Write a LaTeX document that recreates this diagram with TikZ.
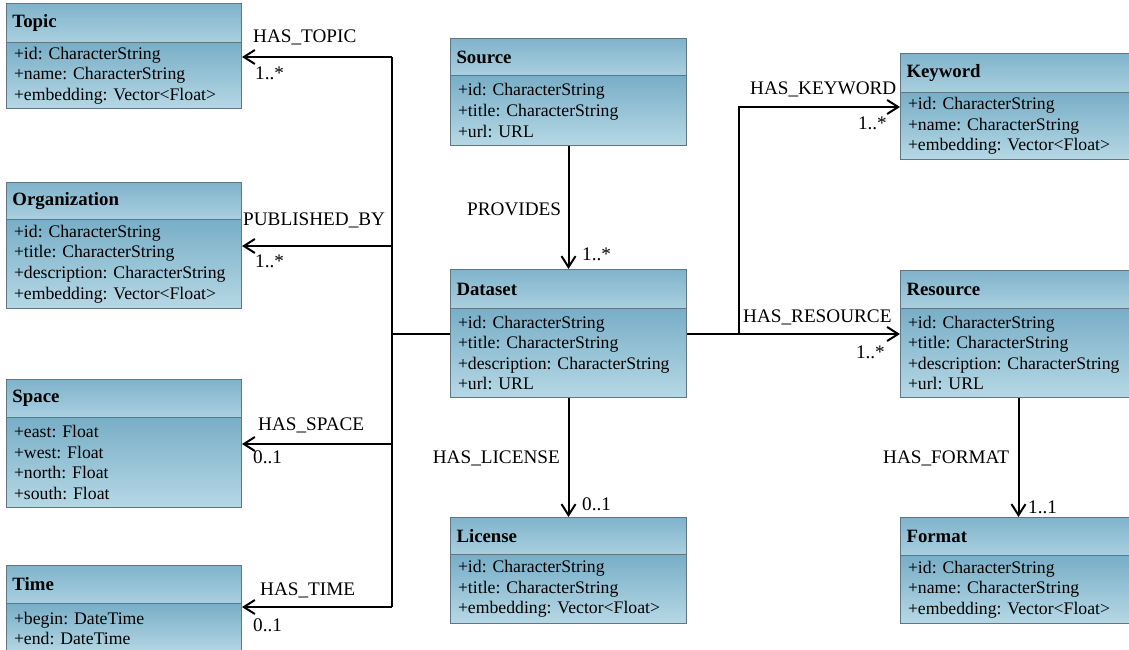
\documentclass[tikz,border=0pt]{standalone}
\usepackage{fontspec}
\setmainfont{Liberation Serif}
\usetikzlibrary{arrows.meta}
\frenchspacing

\definecolor{hdrtop}{HTML}{80B3CB}
\definecolor{hdrbot}{HTML}{AAD0E0}
\definecolor{bodytop}{HTML}{78AEC7}
\definecolor{bodybot}{HTML}{B6D8E5}
\definecolor{boxline}{HTML}{5F7684}

\newcommand\titlefont{\fontsize{18.8}{20}\selectfont\bfseries}
\newcommand\attrfont{\fontsize{17.7}{20.6}\selectfont}
\newcommand\relfont{\fontsize{19.2}{21}\selectfont}

\tikzset{
  classhdr/.style={draw=boxline, line width=1pt, top color=hdrtop, bottom color=hdrbot,
    anchor=north west, inner xsep=6pt, inner ysep=0pt, align=left, font=\titlefont},
  classbody/.style={draw=boxline, line width=1pt, top color=bodytop, bottom color=bodybot,
    anchor=north west, inner xsep=7.5pt, inner ysep=0pt, align=left, font=\attrfont},
  conn/.style={line width=2pt, black},
  assoc/.style={conn, -{Straight Barb[length=11pt, width=14pt]}},
  rel/.style={inner sep=0pt, font=\relfont},
}

% \umlclass{name}{left}{top}{width}{header height}{body height}{title}{attributes}
\newcommand\umlclass[8]{%
  \pgfmathsetmacro\hdrtw{#4-12}%
  \pgfmathsetmacro\bodytw{#4-15}%
  \node[classhdr, minimum width=#4pt, text width=\hdrtw pt, minimum height=#5pt]
    (#1h) at (#2,#3) {#7};
  \node[classbody, minimum width=#4pt, text width=\bodytw pt, minimum height=#6pt]
    (#1) at (#2,#3+#5) {#8};
}

\begin{document}
\begin{tikzpicture}[x=1pt, y=-1pt]
  \useasboundingbox (0,0) rectangle (1129,650);
  \clip (0,0) rectangle (1129,650);
  \fill[white] (0,0) rectangle (1129,650);

  % classes on the left
  \umlclass{topic}{6}{3}{235}{39}{66}{Topic}
    {+id: CharacterString\\+name: CharacterString\\+embedding: Vector<Float>}
  \umlclass{organization}{6}{182}{235}{37}{89}{Organization}
    {+id: CharacterString\\+title: CharacterString\\+description: CharacterString\\+embedding: Vector<Float>}
  \umlclass{space}{6}{379}{235}{38}{90}{Space}
    {+east: Float\\+west: Float\\+north: Float\\+south: Float}
  \umlclass{time}{6}{565}{235}{38}{50}{Time}
    {+begin: DateTime\\+end: DateTime}

  % classes in the middle
  \umlclass{source}{450}{38}{236}{37}{70}{Source}
    {+id: CharacterString\\+title: CharacterString\\+url: URL}
  \umlclass{dataset}{450}{269}{236}{39}{89}{Dataset}
    {+id: CharacterString\\+title: CharacterString\\+description: CharacterString\\+url: URL}
  \umlclass{license}{450}{517}{236}{37}{69}{License}
    {+id: CharacterString\\+title: CharacterString\\+embedding: Vector<Float>}

  % classes on the right
  \umlclass{keyword}{900}{53}{236}{39}{67}{Keyword}
    {+id: CharacterString\\+name: CharacterString\\+embedding: Vector<Float>}
  \umlclass{resource}{900}{270}{236}{38}{89}{Resource}
    {+id: CharacterString\\+title: CharacterString\\+description: CharacterString\\+url: URL}
  \umlclass{format}{900}{517}{236}{38}{68}{Format}
    {+id: CharacterString\\+name: CharacterString\\+embedding: Vector<Float>}

  % bend points of the left trunk
  \coordinate (trunkTop)   at (392,57);
  \coordinate (trunkPub)   at (392,246);
  \coordinate (trunkJoin)  at (392,334);
  \coordinate (trunkSpace) at (392,444);
  \coordinate (trunkBot)   at (392,607);
  % bend points on the right
  \coordinate (rJoin) at (739,334);
  \coordinate (rKey)  at (739,107);

  % left trunk with its branches
  \draw[conn] (trunkTop) -- (trunkBot);
  \draw[conn] (trunkJoin) -- (trunkJoin -| dataset.west);
  \draw[assoc] (trunkTop) -- (trunkTop -| topic.east);
  \draw[assoc] (trunkPub) -- (trunkPub -| organization.east);
  \draw[assoc] (trunkSpace) -- (trunkSpace -| space.east);
  \draw[assoc] (trunkBot) -- (trunkBot -| time.east);

  % vertical associations
  \draw[assoc] (source.south) -- (dataseth.north);
  \draw[assoc] (dataset.south) -- (licenseh.north);
  \draw[assoc] (resource.south) -- (formath.north);

  % right branches
  \draw[assoc] (rJoin -| dataset.east) -- (rJoin -| resource.west);
  \draw[assoc] (rJoin) -- (rKey) -- (rKey -| keyword.west);

  % association names and multiplicities
  \node[rel, anchor=base west] (lblTopic) at (253,43) {HAS\_TOPIC};
  \node[rel, anchor=base west] (mulTopic) at (255,80) {1..*};
  \node[rel, anchor=base west] (lblPub) at (243,225) {PUBLISHED\_BY};
  \node[rel, anchor=base west] (mulPub) at (255,267) {1..*};
  \node[rel, anchor=base west] (lblSpace) at (258,430) {HAS\_SPACE};
  \node[rel, anchor=base west] (mulSpace) at (253,463) {0..1};
  \node[rel, anchor=base west] (lblTime) at (260,595) {HAS\_TIME};
  \node[rel, anchor=base west] (mulTime) at (253,631) {0..1};
  \node[rel, anchor=base west] (lblProv) at (467,215) {PROVIDES};
  \node[rel, anchor=base west] (mulProv) at (582,260) {1..*};
  \node[rel, anchor=base east] (lblLic) at (560,463) {HAS\_LICENSE};
  \node[rel, anchor=base west] (mulLic) at (582,510) {0..1};
  \node[rel, anchor=base west] (lblKey) at (750,95) {HAS\_KEYWORD};
  \node[rel, anchor=base east] (mulKey) at (887,130) {1..*};
  \node[rel, anchor=base west] (lblRes) at (743,322) {HAS\_RESOURCE};
  \node[rel, anchor=base east] (mulRes) at (885,358) {1..*};
  \node[rel, anchor=base west] (lblFmt) at (883,463) {HAS\_FORMAT};
  \node[rel, anchor=base west] (mulFmt) at (1028,513) {1..1};
\end{tikzpicture}
\end{document}
